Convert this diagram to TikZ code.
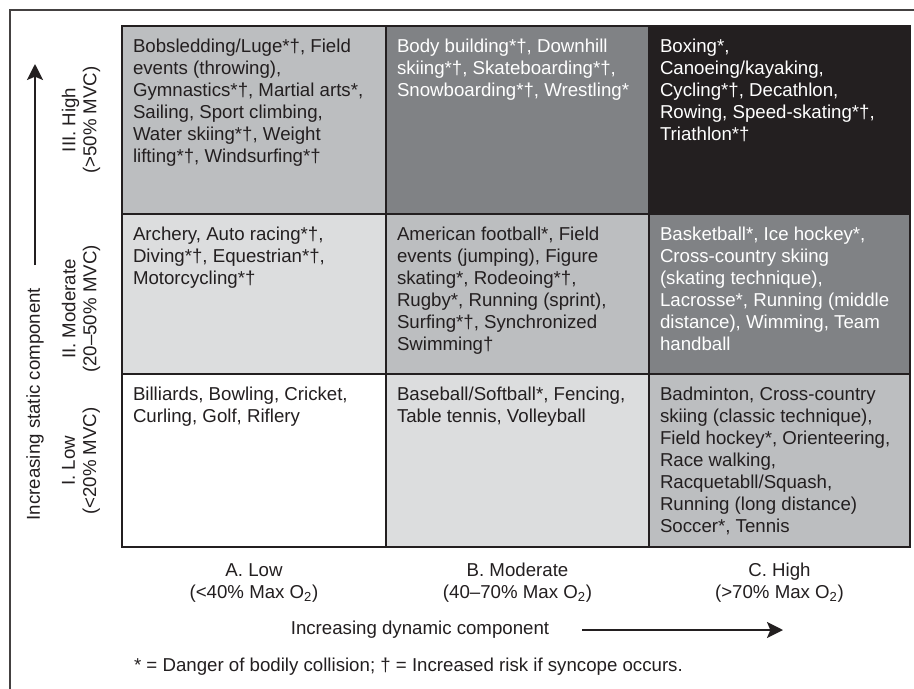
\documentclass[tikz,border=0pt]{standalone}
\usepackage{fontspec}
\setmainfont{Liberation Sans}
\usetikzlibrary{arrows.meta}
\definecolor{ink}{HTML}{231F20}
\definecolor{gLight}{HTML}{DCDDDE}
\definecolor{gMid}{HTML}{BCBEC0}
\definecolor{gDark}{HTML}{808285}
\definecolor{gBlack}{HTML}{231F20}
\begin{document}
\begin{tikzpicture}[x=0.75pt,y=-0.75pt,
  every node/.style={inner sep=0pt, outer sep=0pt, text=ink, font=\fontsize{14pt}{16.5pt}\selectfont},
  celltext/.style={anchor=north west, align=left},
  whitetext/.style={celltext, text=white},
  gridline/.style={draw=ink, line width=1.5pt, line join=miter},
  axisarrow/.style={draw=ink, line width=1.5pt, -{Stealth[length=12pt,width=12pt,inset=2.5pt]}},
  rowlab/.style={rotate=90, align=center, font=\fontsize{14pt}{15.8pt}\selectfont},
  collab/.style={align=center, font=\fontsize{14pt}{16.5pt}\selectfont}
]
\useasboundingbox (0,0) rectangle (914,689);
\fill[white] (0,0) rectangle (914,689);
% outer frame (open at right and bottom)
\draw[draw=ink!85, line width=1.3pt] (10,689) -- (10,10) -- (914,10);

% cell fills
\fill[gMid]   (122,26) rectangle (386,214);
\fill[gDark]  (386,26) rectangle (649,214);
\fill[gBlack] (649,26) rectangle (910,214);
\fill[gLight] (122,214) rectangle (386,374);
\fill[gMid]   (386,214) rectangle (649,374);
\fill[gDark]  (649,214) rectangle (910,374);
\fill[white]  (122,374) rectangle (386,547);
\fill[gLight] (386,374) rectangle (649,547);
\fill[gMid]   (649,374) rectangle (910,547);

% grid lines
\draw[gridline] (122,26) rectangle (910,547);
\draw[gridline] (386,26) -- (386,547);
\draw[gridline] (649,26) -- (649,547);
\draw[gridline] (122,214) -- (910,214);
\draw[gridline] (122,374) -- (910,374);

% cell texts
\node[celltext] (a3) at (133,38.7) {Bobsledding/Luge*†, Field\\events (throwing),\\Gymnastics*†, Martial arts*,\\Sailing, Sport climbing,\\Water skiing*†, Weight\\lifting*†, Windsurfing*†};
\node[whitetext] (b3) at (397,38.7) {Body building*†, Downhill\\skiing*†, Skateboarding*†,\\Snowboarding*†, Wrestling*};
\node[whitetext] (c3) at (660,38.7) {Boxing*,\\Canoeing/kayaking,\\Cycling*†, Decathlon,\\Rowing, Speed-skating*†,\\Triathlon*†};

\node[celltext] (a2) at (133,226.7) {Archery, Auto racing*†,\\Diving*†, Equestrian*†,\\Motorcycling*†};
\node[celltext] (b2) at (397,226.7) {American football*, Field\\events (jumping), Figure\\skating*, Rodeoing*†,\\Rugby*, Running (sprint),\\Surfing*†, Synchronized\\Swimming†};
\node[whitetext] (c2) at (660,226.7) {Basketball*, Ice hockey*,\\Cross-country skiing\\(skating technique),\\Lacrosse*, Running (middle\\distance), Wimming, Team\\handball};

\node[celltext] (a1) at (133,386.7) {Billiards, Bowling, Cricket,\\Curling, Golf, Riflery};
\node[celltext] (b1) at (397,386.7) {Baseball/Softball*, Fencing,\\Table tennis, Volleyball};
\node[celltext] (c1) at (660,386.7) {Badminton, Cross-country\\skiing (classic technique),\\Field hockey*, Orienteering,\\Race walking,\\Racquetabll/Squash,\\Running (long distance)\\Soccer*, Tennis};

% row labels
\node[rowlab] (r3) at (81,120) {III. High\\(>50\% MVC)};
\node[rowlab] (r2) at (81,309) {II. Moderate\\(20–50\% MVC)};
\node[rowlab] (r1) at (81,461) {I. Low\\(<20\% MVC)};

% static axis
\node[rotate=90] (ylab) at (35,404) {Increasing static component};
\coordinate (ys) at (35,265);
\coordinate (ye) at (35,64);
\draw[axisarrow] (ys) -- (ye);

% column labels
\node[collab] (cA) at (254,583) {A. Low\\(<40\% Max O\textsubscript{2})};
\node[collab] (cB) at (517.5,583) {B. Moderate\\(40–70\% Max O\textsubscript{2})};
\node[collab] (cC) at (779.5,583) {C. High\\(>70\% Max O\textsubscript{2})};

% dynamic axis
\node (xlab) at (420,630) {Increasing dynamic component};
\coordinate (xs) at (582,630);
\coordinate (xe) at (783,630);
\draw[axisarrow] (xs) -- (xe);

% footnote
\node[anchor=west] (foot) at (134,667) {* = Danger of bodily collision; † = Increased risk if syncope occurs.};
\end{tikzpicture}
\end{document}
